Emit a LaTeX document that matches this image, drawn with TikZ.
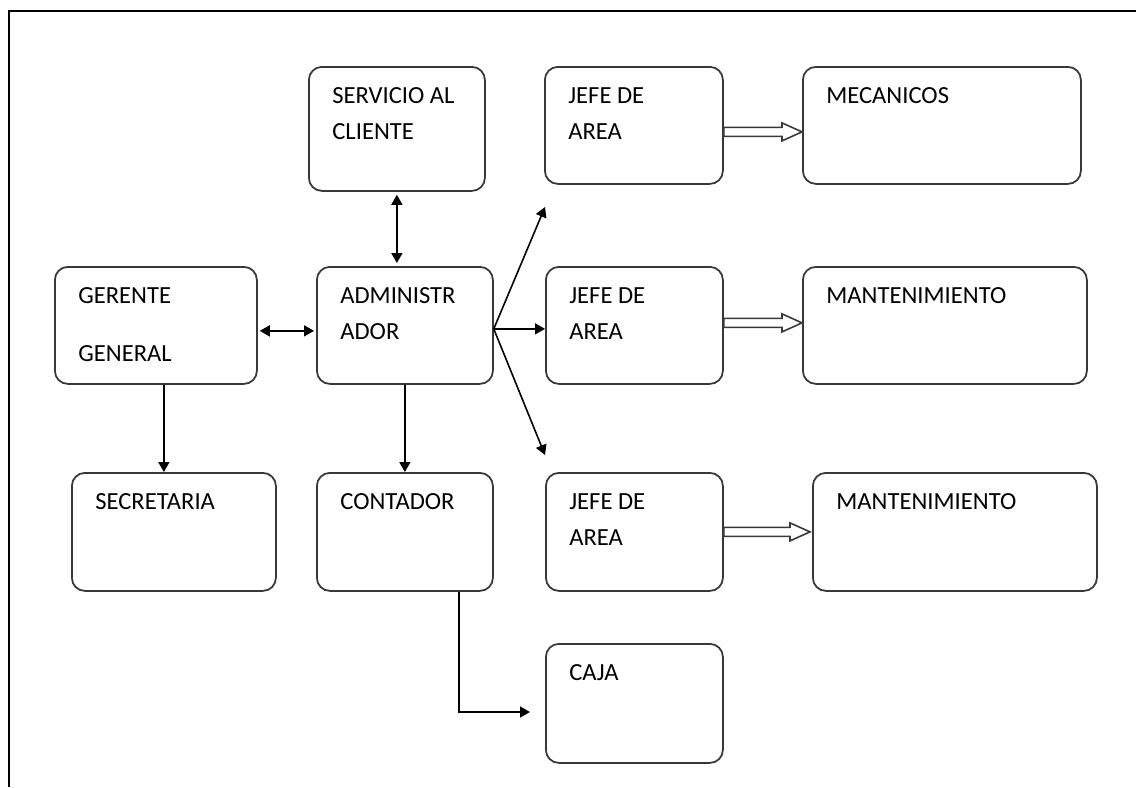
\documentclass[tikz,border=0pt]{standalone}
\usepackage{fontspec}
\setmainfont{Carlito}
\usepackage{tikz}
\usetikzlibrary{arrows.meta, calc}
\definecolor{boxLine}{RGB}{56, 56, 56}
\definecolor{edgeColor}{RGB}{0, 0, 0}
\tikzset{
    org_box/.style 2 args={
        draw=boxLine,
        line width=1pt,
        rounded corners=2.6mm,
        anchor=north west,
        inner sep=0pt,
        minimum width=#1*0.2mm,
        minimum height=#2*0.2mm
    },
    org_text/.style={
        anchor=north west,
        align=left,
        inner sep=0pt,
        xshift=4.8mm,
        yshift=-4.2mm,
        text=black,
        font=\fontsize{14}{20.5}\selectfont
    },
    org_edge/.style={
        draw=edgeColor,
        line width=0.9pt,
        >={Triangle[length=2mm, width=2.2mm]}
    },
    org_hollow/.style={
        draw=boxLine,
        line width=0.9pt,
        to path={let \p1=(\tikztostart), \p2=(\tikztotarget) in
            (\x1,\y1+0.9mm) -- (\x2-4mm,\y1+0.9mm) -- (\x2-4mm,\y1+1.8mm)
            -- (\x2,\y1) -- (\x2-4mm,\y1-1.8mm) -- (\x2-4mm,\y1-0.9mm)
            -- (\x1,\y1-0.9mm) -- cycle}
    }
}
\begin{document}
\begin{tikzpicture}[x=0.2mm, y=-0.2mm]
    \useasboundingbox (0,0) rectangle (1136,787);
    \draw[line width=1.3pt] (1136,11) -- (9,11) -- (9,787);

    % boxes, placed by their top left corner
    \node[org_box={176}{124}, label={[org_text]north west:{SERVICIO AL\\CLIENTE}}] (serv) at (308,66) {};
    \node[org_box={178}{117}, label={[org_text]north west:{JEFE DE\\AREA}}] (j1) at (544,66) {};
    \node[org_box={278}{117}, label={[org_text]north west:{MECANICOS}}] (mec) at (802,66) {};
    \node[org_box={202}{117}, label={[org_text]north west:{GERENTE\\[4.4mm]GENERAL}}] (ger) at (54,266) {};
    \node[org_box={176}{117}, label={[org_text]north west:{ADMINISTR\\ADOR}}] (adm) at (316,266) {};
    \node[org_box={177}{117}, label={[org_text]north west:{JEFE DE\\AREA}}] (j2) at (545,266) {};
    \node[org_box={284}{117}, label={[org_text]north west:{MANTENIMIENTO}}] (man1) at (802,266) {};
    \node[org_box={204}{118}, label={[org_text]north west:{SECRETARIA}}] (sec) at (71,472) {};
    \node[org_box={176}{118}, label={[org_text]north west:{CONTADOR}}] (cont) at (316,472) {};
    \node[org_box={177}{118}, label={[org_text]north west:{JEFE DE\\AREA}}] (j3) at (545,472) {};
    \node[org_box={284}{118}, label={[org_text]north west:{MANTENIMIENTO}}] (man2) at (812,472) {};
    \node[org_box={177}{119}, label={[org_text]north west:{CAJA}}] (caja) at (545,643) {};

    \coordinate (fork) at ([yshift=-0.7mm]adm.east);
    \coordinate (jup) at (545,207);
    \coordinate (jdown) at (545,455);
    \coordinate (cajain) at (530,712);

    \draw[org_edge, <->, shorten <=0.6mm, shorten >=0.6mm] (serv.south) -- (serv.south |- adm.north);
    \draw[org_edge, <->, shorten <=0.4mm, shorten >=0.4mm] ([yshift=-1.1mm]ger.east) -- ([yshift=-1.1mm]ger.east -| adm.west);
    \draw[org_edge, ->] (fork) -- (jup);
    \draw[org_edge, ->] (fork) -- (fork -| j2.west);
    \draw[org_edge, ->] (fork) -- (jdown);
    \draw[org_edge, ->] ([xshift=1.6mm]ger.south) -- ([xshift=1.6mm]ger.south |- sec.north);
    \draw[org_edge, ->] (adm.south) -- (adm.south |- cont.north);
    \draw[org_edge, ->] ([xshift=10.8mm]cont.south) |- (cajain);

    \draw[org_hollow] ([yshift=-1.3mm]j1.east) to (mec.west);
    \draw[org_hollow] ([yshift=0.5mm]j2.east) to (man1.west);
    \draw[org_hollow] (j3.east) to ([xshift=-0.4mm]man2.west);
\end{tikzpicture}
\end{document}
